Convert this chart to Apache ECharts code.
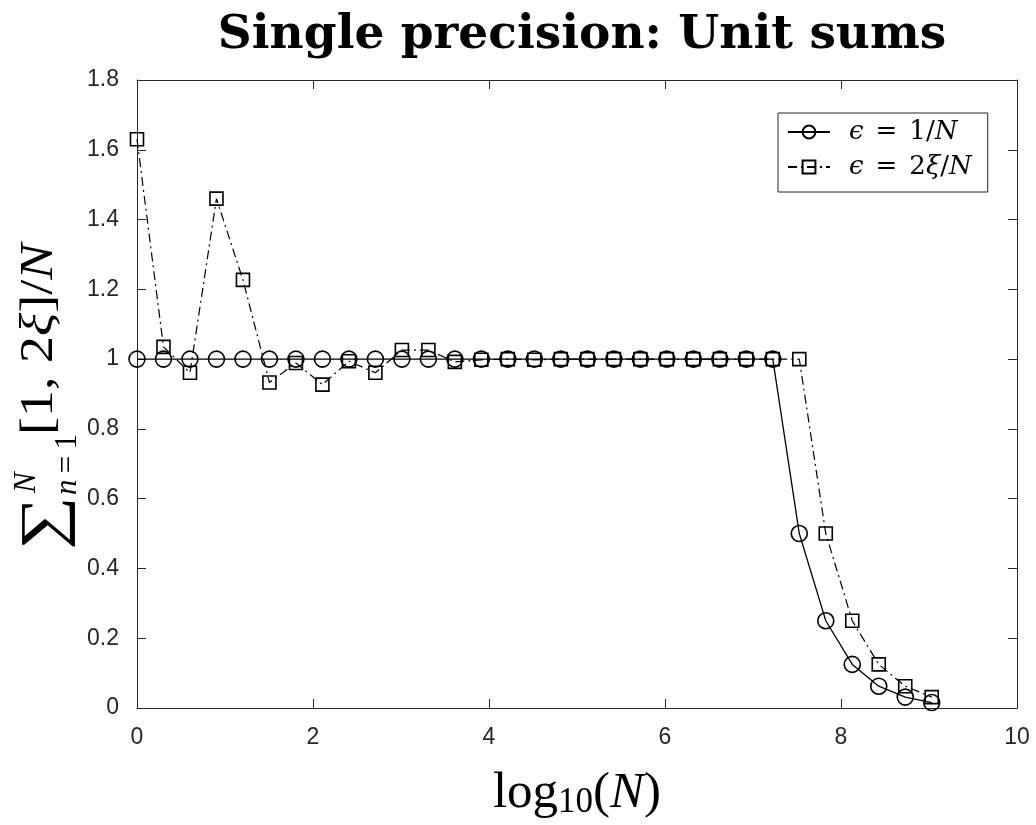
<!DOCTYPE html>
<html><head><meta charset="utf-8">
<script src="https://cdn.jsdelivr.net/npm/echarts@6/dist/echarts.min.js"></script>
<style>html,body{margin:0;padding:0;background:#fff}#c{width:1036px;height:825px}</style>
</head><body><div id="c"></div>
<script>
// ---- data ----
const xTicks = [0, 2, 4, 6, 8, 10];
const yTicks = [0, 0.2, 0.4, 0.6, 0.8, 1, 1.2, 1.4, 1.6, 1.8];
const log10N = [0, 0.301, 0.602, 0.903, 1.204, 1.505, 1.806, 2.107, 2.408, 2.709,
  3.010, 3.311, 3.612, 3.913, 4.214, 4.515, 4.816, 5.118, 5.419, 5.720,
  6.021, 6.322, 6.623, 6.924, 7.225, 7.526, 7.827, 8.128, 8.429, 8.730, 9.031];
const sumUnitEps = [1, 1, 1, 1, 1, 1, 1, 1, 1, 1,
  1, 1, 1, 1, 1, 1, 1, 1, 1, 1,
  1, 1, 1, 1, 1, 0.5, 0.25, 0.125, 0.0625, 0.03125, 0.0156];
const sumRandEps = [1.63, 1.035, 0.961, 1.46, 1.227, 0.933, 0.989, 0.927, 0.994, 0.961,
  1.026, 1.026, 0.992, 0.998, 1.0, 0.998, 1.0, 1.0, 1.0, 1.0,
  1.0, 1.0, 1.0, 1.0, 1.0, 1.0, 0.5, 0.25, 0.125, 0.0625, 0.03125];
const seriesNames = ['ϵ = 1/N', 'ϵ = 2ξ/N'];
const titleText = 'Single precision: Unit sums';

// ---- chart ----
const AX = '#262626';
const SERIF = '"Liberation Serif", "DejaVu Serif", serif';
const DSERIF = '"DejaVu Serif", serif';
const chart = echarts.init(document.getElementById('c'), null, {renderer: 'canvas'});

function latexRich(s) {
  const parts = s.split(' = ');
  const rhs = parts[1].replace(/([ξN])/g, '}{i|$1}{a|');
  return '{g|}{i|ϵ}{e|=}{a|' + rhs + '}';
}

const axisCommon = {
  type: 'value',
  axisLine: {show: true, onZero: false, lineStyle: {color: AX, width: 1}},
  axisTick: {show: true, inside: true, length: 9, lineStyle: {color: AX, width: 1}},
  splitLine: {show: false}
};

const legendFont = 26;
const option = {
  animation: false,
  backgroundColor: '#fff',
  title: {
    text: titleText,
    left: 577, top: 7, textAlign: 'center',
    textStyle: {fontFamily: DSERIF, fontWeight: 'bold', fontSize: 47, color: '#000'}
  },
  grid: {left: 137, right: 19, top: 80, bottom: 110, containLabel: false},
  legend: {
    orient: 'vertical', left: 778, top: 113,
    data: seriesNames,
    backgroundColor: '#fff', borderColor: AX, borderWidth: 1,
    padding: [6, 16, 12, 9], itemGap: 9, itemWidth: 42, itemHeight: 16,
    selectedMode: false,
    formatter: name => latexRich(name),
    textStyle: {
      fontFamily: DSERIF, fontSize: legendFont, color: '#000', lineHeight: 24,
      rich: {
        g: {width: 14, lineHeight: 24},
        a: {fontFamily: DSERIF, fontSize: legendFont, color: '#000', lineHeight: 24},
        e: {fontFamily: DSERIF, fontSize: legendFont, color: '#000', lineHeight: 24, padding: [0, 12, 0, 12]},
        i: {fontFamily: DSERIF, fontStyle: 'italic', fontSize: legendFont, color: '#000', lineHeight: 24}
      }
    }
  },
  xAxis: [
    Object.assign({}, axisCommon, {
      min: xTicks[0], max: xTicks[xTicks.length - 1], interval: xTicks[1] - xTicks[0], position: 'bottom',
      axisLabel: {fontFamily: '"Liberation Sans", Arial, sans-serif', fontSize: 23, color: AX, margin: 18},
      name: '{a|log}{s|10}{a|(}{i|N}{a|)}',
      nameLocation: 'middle', nameGap: 60,
      nameTextStyle: {
        rich: {
          a: {fontFamily: SERIF, fontSize: 51, color: '#000', lineHeight: 52},
          i: {fontFamily: SERIF, fontSize: 51, fontStyle: 'italic', color: '#000', lineHeight: 52},
          s: {fontFamily: SERIF, fontSize: 35, color: '#000', lineHeight: 12, verticalAlign: 'bottom'}
        }
      }
    }),
    Object.assign({}, axisCommon, {
      min: xTicks[0], max: xTicks[xTicks.length - 1], interval: xTicks[1] - xTicks[0], position: 'top',
      axisLabel: {show: false}
    })
  ],
  yAxis: [
    Object.assign({}, axisCommon, {
      min: yTicks[0], max: yTicks[yTicks.length - 1], interval: 0.2, position: 'left',
      axisLabel: {fontFamily: '"Liberation Sans", Arial, sans-serif', fontSize: 23, color: AX, margin: 18,
        formatter: v => String(Math.round(v * 10) / 10)}
    }),
    Object.assign({}, axisCommon, {
      min: yTicks[0], max: yTicks[yTicks.length - 1], interval: 0.2, position: 'right',
      axisLabel: {show: false}
    })
  ],
  graphic: [{
    type: 'group',
    x: 56, y: 550, rotation: Math.PI / 2,
    silent: true,
    children: [
      {type: 'text', x: 0, y: -10, scaleX: 1.3, scaleY: 1.05, style: {text: '∑', font: 'normal 58px ' + SERIF, fill: '#000', textAlign: 'left', textVerticalAlign: 'middle'}},
      {type: 'text', x: 57, y: -29, style: {text: 'N', font: 'italic 31px ' + SERIF, fill: '#000', textAlign: 'left', textVerticalAlign: 'middle'}},
      {type: 'text', x: 55, y: 12, style: {text: '{i|n}{a|\u2009=\u2009}{a|1}', fill: '#000', textAlign: 'left', textVerticalAlign: 'middle',
        rich: {i: {font: 'italic 31px ' + SERIF, fill: '#000'}, a: {font: 'normal 31px ' + SERIF, fill: '#000'}}}},
      {type: 'text', x: 115, y: -16, scaleX: 1.15, style: {text: '{a|[1, 2}{i|ξ}{a|]/}{i|N}', fill: '#000', textAlign: 'left', textVerticalAlign: 'middle',
        rich: {i: {font: 'italic 47px ' + SERIF, fill: '#000'}, a: {font: 'normal 47px ' + SERIF, fill: '#000'}}}}
    ]
  }],
  series: [
    {
      type: 'line', name: seriesNames[0], xAxisIndex: 0, yAxisIndex: 0,
      data: log10N.map((x, i) => [x, sumUnitEps[i]]),
      symbol: 'circle', symbolSize: 16, showAllSymbol: true,
      itemStyle: {color: 'rgba(0,0,0,0)', borderColor: '#000', borderWidth: 1.6},
      lineStyle: {color: '#000', width: 1.3, type: 'solid'},
      emphasis: {disabled: true}, z: 3
    },
    {
      type: 'line', name: seriesNames[1], xAxisIndex: 0, yAxisIndex: 0,
      data: log10N.map((x, i) => [x, sumRandEps[i]]),
      symbol: 'rect', symbolSize: 13, showAllSymbol: true,
      itemStyle: {color: 'rgba(0,0,0,0)', borderColor: '#000', borderWidth: 1.6},
      lineStyle: {color: '#000', width: 1.2, type: [9, 4, 2, 4]},
      emphasis: {disabled: true}, z: 4
    }
  ]
};
chart.setOption(option);
</script>
</body></html>
